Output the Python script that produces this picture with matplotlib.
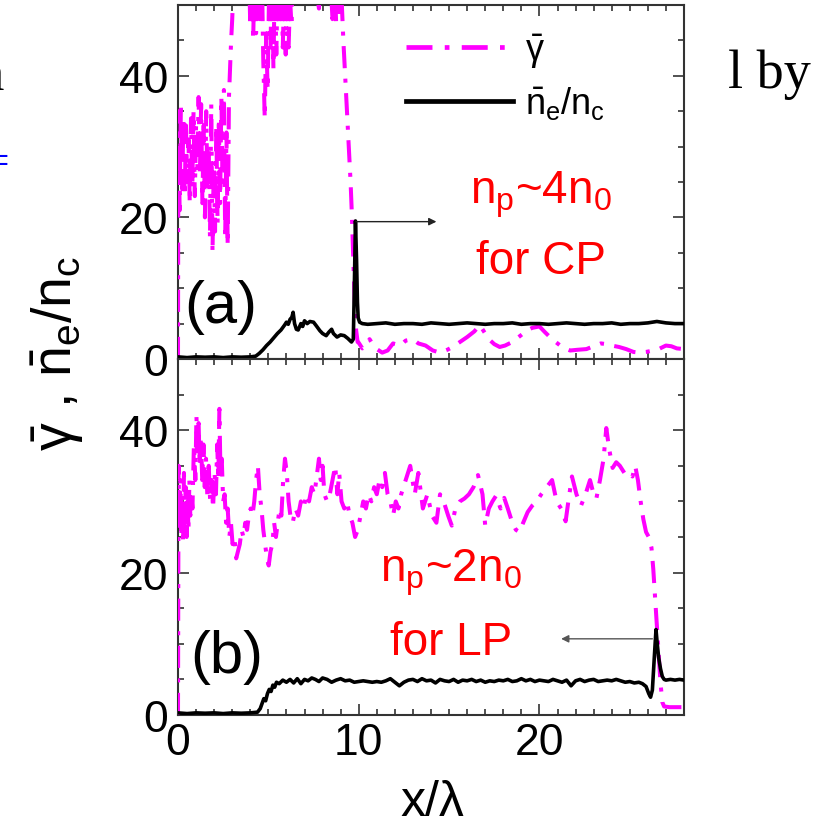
"""
gamma-bar and n_e/n_c profiles along x/lambda for CP (a) and LP (b).
"""

import matplotlib
matplotlib.use("Agg")
import matplotlib.pyplot as plt
from matplotlib.lines import Line2D
from matplotlib.ticker import MultipleLocator

plt.rcParams["font.family"] = ["Liberation Sans", "DejaVu Sans"]
plt.rcParams["mathtext.fontset"] = "custom"
plt.rcParams["mathtext.rm"] = "Liberation Sans"
plt.rcParams["mathtext.it"] = "Liberation Sans"
plt.rcParams["mathtext.sf"] = "Liberation Sans"

# ---------------------------------------------------------------------------
# Data
# ---------------------------------------------------------------------------

# (a) CP, mean gamma
XA_GAMMA = [
    0.00, 0.02, 0.09, 0.16, 0.23, 0.30, 0.37, 0.44, 0.51, 0.58,
    0.65, 0.72, 0.79, 0.86, 0.93, 1.00, 1.07, 1.14, 1.21, 1.28,
    1.35, 1.42, 1.49, 1.56, 1.63, 1.70, 1.77, 1.84, 1.91, 1.98,
    2.05, 2.12, 2.19, 2.26, 2.33, 2.40, 2.47, 2.54, 2.61, 2.68,
    2.75, 2.82, 2.88, 2.94, 3.00, 3.06, 3.15,
    3.50, 3.90, 4.00, 4.08, 4.16, 4.24, 4.32, 4.42, 4.52, 4.62,
    4.72, 4.80, 4.88, 4.96, 5.04, 5.12, 5.20, 5.28, 5.36, 5.44,
    5.52, 5.60, 5.70, 5.80, 5.88, 5.96, 6.04, 6.12, 6.20, 6.28,
    6.40, 6.80, 7.30, 7.80, 7.90, 8.00, 8.30, 8.55, 8.65, 8.75,
    8.85, 8.95, 9.05, 9.15, 9.25, 9.35, 9.45, 9.55, 9.62, 9.70,
    9.78, 9.86, 9.94,
    10.0, 10.2, 10.4, 10.6, 10.8, 11.0, 11.3, 11.6, 11.9, 12.3,
    12.6, 13.0, 13.3, 13.7, 14.1, 14.5, 14.9, 15.2, 15.6, 16.0,
    16.4, 16.7, 17.0, 17.2, 17.5, 17.8, 18.1, 18.5, 18.9, 19.3,
    19.6, 20.0, 20.3, 20.7, 21.0, 21.3, 21.7, 22.1, 22.6, 23.0,
    23.4, 23.7, 24.0, 24.4, 24.8, 25.2, 25.5, 25.9, 26.3, 26.6,
    27.0, 27.3, 27.6, 28.0,
]
YA_GAMMA = [
    0, 35, 21, 36, 24, 34, 23, 33, 25, 31,
    22, 34, 24, 35, 23, 33, 27, 37, 26, 36,
    22, 33, 20, 35, 24, 30, 17, 36, 15, 28,
    18, 33, 19, 34, 22, 37, 25, 38, 17, 32,
    16, 37, 41, 45, 48, 52, 60,
    62, 58, 47, 55, 45, 56, 46, 57, 48, 58,
    42, 34, 46, 38, 52, 44, 56, 41, 55, 43,
    54, 47, 58, 44, 53, 43, 55, 44, 51, 47,
    60, 63, 59, 49.5, 56, 61, 60, 48, 55, 47.5,
    53, 49, 51, 45, 40, 35, 30, 25, 20.5, 14,
    8, 4, 2.4,
    2.3, 1.5, 1.8, 2.8, 2.0, 1.4, 0.9, 1.2, 2.2, 1.9,
    2.6, 2.8, 2.2, 1.9, 1.2, 0.9, 1.3, 1.7, 2.4, 3.1,
    3.9, 4.8, 3.6, 2.8, 2.1, 1.7, 1.9, 2.4, 3.2, 4.0,
    4.4, 4.6, 3.8, 2.8, 2.2, 1.6, 1.2, 1.3, 1.4, 1.8,
    2.2, 2.1, 1.9, 1.7, 1.4, 1.0, 0.9, 1.0, 1.2, 1.4,
    1.9, 1.8, 1.5, 1.4,
]

# (a) CP, n_e/n_c
XA_NE = [
    0.0, 0.5, 1.0, 1.5, 2.0, 2.5, 3.0, 3.5, 4.0, 4.3,
    4.5, 4.7, 4.9, 5.1, 5.3, 5.5, 5.7, 5.9, 6.0, 6.1,
    6.2, 6.3, 6.37, 6.45, 6.55, 6.65, 6.8, 6.9, 7.0, 7.15,
    7.3, 7.5, 7.65, 7.85, 8.0, 8.2, 8.35, 8.5, 8.6, 8.8,
    9.0, 9.2, 9.4, 9.6, 9.7, 9.75, 9.82, 9.88, 9.93, 9.97,
    10.05, 10.2,
    10.5, 11.0, 11.5, 12.0, 12.5, 13.0, 13.5, 14.0, 14.5, 15.0,
    15.5, 16.0, 16.5, 17.0, 17.5, 18.0, 18.5, 19.0, 19.5, 20.0,
    20.5, 21.0, 21.5, 22.0, 22.5, 23.0, 23.5, 24.0, 24.5, 25.0,
    25.5, 26.0, 26.5, 27.0, 27.5, 28.0,
]
YA_NE = [
    0.3, 0.2, 0.3, 0.25, 0.3, 0.2, 0.3, 0.25, 0.3, 0.4,
    0.8, 1.3, 1.9, 2.4, 3.0, 3.6, 4.1, 4.8, 5.2, 4.9,
    5.6, 5.9, 6.6, 5.0, 4.2, 4.1, 5.0, 4.6, 5.4, 5.0,
    5.3, 5.2, 4.7, 4.0, 3.6, 3.3, 3.8, 4.2, 3.6, 3.1,
    3.4, 3.3, 2.9, 2.4, 2.8, 9.0, 19.5, 14.0, 8.0, 5.8,
    5.2, 5.0,
    4.9, 5.0, 5.1, 4.9, 5.0, 5.0, 4.9, 5.1, 5.0, 4.9,
    5.0, 5.1, 5.0, 4.9, 5.0, 5.0, 5.1, 4.9, 5.0, 5.0,
    4.9, 5.0, 5.1, 5.0, 4.9, 5.0, 5.0, 5.1, 4.9, 5.0,
    5.0, 5.1, 5.3, 5.1, 5.0, 5.0,
]

# (b) LP, mean gamma
XB_GAMMA = [
    0.00, 0.03, 0.08, 0.13, 0.18, 0.23, 0.28, 0.33, 0.38, 0.43,
    0.48, 0.53, 0.58, 0.63, 0.68, 0.73, 0.80, 0.88, 0.96, 1.02,
    1.08, 1.14, 1.20, 1.27, 1.34, 1.41, 1.48, 1.55, 1.62, 1.70,
    1.78, 1.86, 1.94, 2.02, 2.10, 2.17, 2.23, 2.29, 2.35, 2.42,
    2.50, 2.58, 2.66, 2.75, 2.84, 2.93, 3.02, 3.12, 3.22, 3.32,
    3.42, 3.52, 3.62, 3.72, 3.82, 3.92, 4.02, 4.12, 4.22, 4.32,
    4.42, 4.52, 4.62, 4.72, 4.82, 4.92, 5.02, 5.12, 5.22, 5.32,
    5.42, 5.52, 5.62, 5.72, 5.82, 5.92, 6.02, 6.12, 6.22, 6.35,
    6.50, 6.65, 6.80, 6.95, 7.10, 7.25, 7.40, 7.55, 7.70, 7.80,
    7.90, 8.00, 8.10, 8.25, 8.40, 8.55, 8.70, 8.82, 8.92, 9.05,
    9.20, 9.35, 9.50, 9.65, 9.80, 9.95, 10.10, 10.25, 10.40, 10.55,
    10.70, 10.85, 11.00, 11.15, 11.30, 11.45, 11.60, 11.75, 11.90, 12.05,
    12.20, 12.35, 12.60, 12.85, 13.10, 13.30, 13.55, 13.80, 14.05, 14.30,
    14.50, 14.70, 14.95, 15.15, 15.35, 15.60, 15.85, 16.10, 16.35, 16.60,
    16.85, 17.00, 17.20, 17.40, 17.60, 17.85, 18.05, 18.25, 18.50, 18.70,
    18.90, 19.10, 19.35, 19.60, 19.85, 20.10, 20.40, 20.70, 20.95, 21.20,
    21.45, 21.60, 21.80, 22.05, 22.30, 22.55, 22.80, 23.00, 23.15, 23.35,
    23.55, 23.70, 23.85, 24.05, 24.25, 24.45, 24.70, 24.95, 25.15, 25.30,
    25.45, 25.60, 25.75, 25.90, 26.05, 26.20, 26.30, 26.40, 26.50, 26.60,
    26.70, 26.80, 26.90, 27.20, 27.60, 28.00,
]
YB_GAMMA = [
    0, 35, 26, 33, 25, 31, 24, 34, 27, 32,
    25, 30, 26, 33, 28, 31, 29, 38, 33, 42,
    37, 41, 35, 39, 33, 38, 32, 36, 31, 35,
    30, 33, 29, 34, 31, 38, 33, 43, 34, 36,
    30, 31, 27, 29, 25, 27, 24, 25, 22, 23,
    24, 26, 25, 27, 26, 28, 29, 28, 30, 33,
    35, 31, 29, 26, 24, 22, 21, 23, 24, 27,
    25, 27, 29, 28, 33, 36, 34, 30, 28, 27,
    29, 28, 30, 29, 31, 30, 32, 31, 34, 36,
    33, 35, 31, 30, 31, 33, 35, 31, 34, 30,
    29, 30, 28, 27, 25, 26, 28, 30, 29, 31,
    30, 32, 31, 33, 32, 34, 31, 30, 28, 30,
    29, 31, 33, 35, 31, 34, 29, 31, 28, 27,
    31, 30, 28, 26.6, 29, 30, 30.4, 31, 32, 33.7,
    31, 26.6, 29, 30, 30.8, 29, 30.5, 29, 27, 26,
    25.7, 27, 28.5, 29.4, 30, 31, 32, 33, 30, 29,
    27.2, 30, 33.5, 31, 29.4, 31, 33, 31, 30.4, 33,
    36, 40.3, 37.5, 34.7, 35.5, 35, 34, 34.2, 33.5, 35,
    33, 30, 27.5, 25.7, 25, 23.5, 20.5, 16.5, 12.5, 8.5,
    4.5, 1.8, 1.2, 1.1, 1.1, 1.1,
]

# (b) LP, n_e/n_c
XB_NE = [
    0.0, 0.5, 1.0, 1.5, 2.0, 2.5, 3.0, 3.5, 4.0, 4.4,
    4.55, 4.65, 4.75, 4.85, 4.95, 5.05, 5.15, 5.25, 5.35, 5.45,
    5.6, 5.8, 6.0, 6.2, 6.4, 6.6, 6.8, 7.0, 7.2, 7.4,
    7.6, 7.8, 8.0, 8.25, 8.5, 8.75, 9.0, 9.25, 9.5, 9.75,
    10.0, 10.25, 10.5, 10.75, 11.0, 11.25, 11.5, 11.75, 12.0, 12.25,
    12.5, 12.75, 13.0, 13.25, 13.5, 13.75, 14.0, 14.25, 14.5, 14.75,
    15.0, 15.25, 15.5, 15.75, 16.0, 16.25, 16.5, 16.75, 17.0, 17.25,
    17.5, 17.75, 18.0, 18.25, 18.5, 18.75, 19.0, 19.25, 19.5, 19.75,
    20.0, 20.25, 20.5, 20.75, 21.0, 21.25, 21.5, 21.75, 22.0, 22.25,
    22.5, 22.75, 23.0, 23.25, 23.5, 23.75, 24.0, 24.25, 24.5, 24.75,
    25.0, 25.25, 25.5, 25.7, 25.9, 26.05, 26.15, 26.25, 26.35, 26.45,
    26.52, 26.6, 26.7, 26.8, 26.9, 27.0, 27.25, 27.5, 27.75, 28.0,
]
YB_NE = [
    0.3, 0.2, 0.3, 0.25, 0.3, 0.2, 0.3, 0.25, 0.3, 0.4,
    0.9, 1.6, 2.3, 2.0, 3.0, 3.6, 3.3, 4.2, 3.9, 4.6,
    4.4, 4.9, 4.6, 5.0, 4.5, 5.1, 4.4, 5.0, 4.8, 5.2,
    5.0, 4.7, 5.2, 5.0, 4.6, 4.9, 5.1, 4.8, 4.9, 4.6,
    4.7, 4.8, 4.7, 4.6, 4.7, 4.6, 4.8, 5.1, 4.6, 4.1,
    4.6, 4.9, 5.0, 4.7, 5.1, 4.8, 4.9, 4.5, 5.0, 4.8,
    4.7, 5.0, 4.6, 4.9, 4.8, 5.0, 4.7, 4.9, 4.6, 4.8,
    4.7, 4.9, 4.8, 5.0, 4.7, 4.8, 5.1, 4.8, 5.0, 4.7,
    4.9, 4.8, 4.7, 5.0, 4.8, 4.6, 4.9, 4.1, 4.8, 5.0,
    4.7, 4.9, 5.0, 4.7, 4.8, 4.9, 4.8, 5.0, 4.8, 4.6,
    4.7, 4.5, 4.6, 4.4, 4.0, 3.0, 2.5, 3.5, 7.8, 12.0,
    10.0, 8.0, 6.5, 5.4, 5.0, 4.9, 5.0, 4.9, 5.0, 4.9,
]

PANEL_LABELS = ["(a)", "(b)"]
NOTE_DENSITY = [r"n$_\mathregular{p}$~4n$_\mathregular{0}$", r"n$_\mathregular{p}$~2n$_\mathregular{0}$"]
NOTE_POL = ["for CP", "for LP"]

MAGENTA = "#ff00ff"
RED = "#ff0000"
DASHDOT = (0, (5.5, 2.6, 1.0, 2.6))

W, H = 819, 829


def fx(px):
    return px / W


def fy(py):
    return 1 - py / H


def style_axes(ax):
    ax.set_xlim(0, 28)
    ax.set_ylim(0, 50)
    ax.xaxis.set_major_locator(MultipleLocator(10))
    ax.xaxis.set_minor_locator(MultipleLocator(1))
    ax.yaxis.set_major_locator(MultipleLocator(20))
    ax.yaxis.set_minor_locator(MultipleLocator(5))
    ax.tick_params(which="both", direction="in", top=True, right=True,
                   width=1.2, color="#333333", labelsize=32)
    ax.tick_params(which="major", length=8)
    ax.tick_params(which="minor", length=4.5)
    ax.tick_params(axis="y", pad=7)
    ax.tick_params(axis="x", pad=5)
    for sp in ax.spines.values():
        sp.set_linewidth(1.5)
        sp.set_color("#333333")


fig = plt.figure(figsize=(W / 100, H / 100), dpi=100)
ax1 = fig.add_axes([fx(178), fy(360), fx(684) - fx(178), fy(6) - fy(360)])
ax2 = fig.add_axes([fx(178), fy(716), fx(684) - fx(178), fy(360) - fy(716)])

for ax, xg, yg, xn, yn in [(ax1, XA_GAMMA, YA_GAMMA, XA_NE, YA_NE),
                           (ax2, XB_GAMMA, YB_GAMMA, XB_NE, YB_NE)]:
    style_axes(ax)
    ax.plot(xg, yg, color=MAGENTA, lw=2.9, linestyle=DASHDOT, zorder=3)
    ax.plot(xn, yn, color="black", lw=2.6, zorder=4)

ax1.tick_params(axis="x", labelbottom=False)

# arrows pointing at the density spikes
ax1.annotate("", xy=(14.3, 19.4), xytext=(9.85, 19.4),
             arrowprops=dict(arrowstyle="-|>", lw=1.0, color="#222222",
                             mutation_scale=11, shrinkA=0, shrinkB=0), zorder=5)
ax2.annotate("", xy=(21.2, 10.7), xytext=(26.25, 10.7),
             arrowprops=dict(arrowstyle="-|>", lw=1.0, color="#555555",
                             mutation_scale=11, shrinkA=0, shrinkB=0), zorder=5)

# legend
handles = [Line2D([], [], color=MAGENTA, lw=3.4, linestyle=(0, (5.5, 2.6, 1.0, 2.6))),
           Line2D([], [], color="black", lw=3.4)]
fig.legend(handles, [r"$\bar{\gamma}$", r"$\bar{n}_e/n_c$"],
           loc="upper left", bbox_to_anchor=(fx(406), fy(32)),
           frameon=False, fontsize=26, handlelength=2.95,
           handletextpad=0.35, labelspacing=0.4, borderpad=0, borderaxespad=0)

# panel labels and red notes
fig.text(fx(221), fy(323), PANEL_LABELS[0], fontsize=43, ha="center", va="baseline")
fig.text(fx(227), fy(673), PANEL_LABELS[1], fontsize=43, ha="center", va="baseline")
fig.text(fx(541), fy(203), NOTE_DENSITY[0], fontsize=33, color=RED, ha="center", va="baseline")
fig.text(fx(541), fy(274), NOTE_POL[0], fontsize=33, color=RED, ha="center", va="baseline")
fig.text(fx(451), fy(582), NOTE_DENSITY[1], fontsize=33, color=RED, ha="center", va="baseline")
fig.text(fx(451), fy(655), NOTE_POL[1], fontsize=33, color=RED, ha="center", va="baseline")

# axis labels
fig.text(fx(58), fy(353), r"$\bar{\gamma}$ , $\bar{n}_e/n_c$", fontsize=40,
         rotation=90, ha="center", va="center")
fig.text(fx(432), fy(816), "x/\u03bb", fontsize=36, ha="center", va="baseline")

# fragments of the surrounding page text
fig.text(fx(728), fy(88), "l by", fontsize=39, family="Liberation Serif", va="baseline")
fig.text(fx(-22), fy(90), "n", fontsize=38, family="Liberation Serif", va="baseline")
fig.text(fx(-9), fy(170), "=", fontsize=22, color="blue", va="baseline")

fig.savefig("out.png", dpi=100)
